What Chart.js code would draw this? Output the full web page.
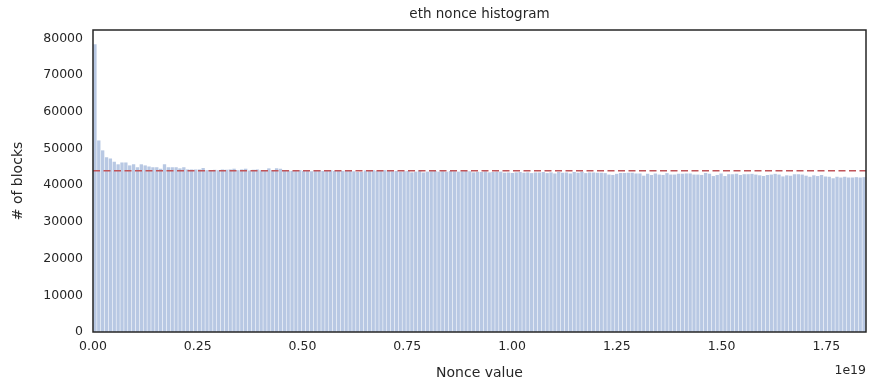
<!DOCTYPE html>
<html>
<head>
<meta charset="utf-8">
<script src="https://cdn.jsdelivr.net/npm/chart.js@4"></script>
<style>
  body { margin: 0; background: #fff; }
  #wrap { width: 877px; height: 391px; }
</style>
</head>
<body>
<div id="wrap"><canvas id="histChart"></canvas></div>
<script>
// nonce range is 0 .. 2^64, split into equal bins
const nonceMax = 18446744073709551615;
const meanLine = 43950;
const xTicks = [0, 0.25e19, 0.5e19, 0.75e19, 1e19, 1.25e19, 1.5e19, 1.75e19];
const yTicks = [0, 10000, 20000, 30000, 40000, 50000, 60000, 70000, 80000];

// block counts per bin
const counts = [
  78400, 52200, 49500, 47600, 47300, 46400, 45700, 46200, 46200, 45400,
  45700, 44900, 45700, 45400, 45100, 44900, 44900, 44500, 45700, 44900,
  44900, 44900, 44600, 44900, 44300, 44300, 44300, 44300, 44700, 44100,
  44100, 44200, 44100, 44300, 44200, 44300, 44500, 44100, 44300, 44500,
  44000, 44200, 44300, 44100, 44000, 44600, 44100, 44600, 44500, 44100,
  44000, 43900, 44000, 44100, 43900, 43900, 43800, 44000, 44100, 43900,
  43900, 44100, 43900, 44000, 43900, 44000, 43900, 43800, 43600, 43700,
  44000, 43900, 44100, 43900, 44000, 44100, 44000, 43800, 43900, 43700,
  43800, 43900, 43500, 43700, 44000, 43500, 43700, 43800, 43900, 43700,
  43800, 43700, 43900, 43800, 43700, 43800, 43900, 43800, 43500, 43700,
  43600, 43800, 43500, 43600, 43700, 43700, 43400, 43500, 43300, 43500,
  43600, 43400, 43500, 43300, 43500, 43500, 43600, 43300, 43500, 43200,
  43600, 43400, 43500, 43200, 43600, 43400, 43700, 43300, 43500, 43500,
  43400, 43400, 43300, 42900, 42800, 43100, 43300, 43300, 43400, 43400,
  43200, 43200, 42600, 43100, 42800, 43200, 42900, 42800, 43300, 42900,
  42900, 43100, 43100, 43200, 43200, 42900, 42900, 42800, 43300, 43100,
  42500, 42800, 43200, 42500, 43000, 43000, 43100, 42800, 43000, 43000,
  43100, 42900, 42700, 42500, 42800, 42900, 43100, 42900, 42400, 42700,
  42600, 43000, 43000, 42900, 42600, 42300, 42700, 42500, 42800, 42400,
  42300, 41900, 42300, 42100, 42300, 42100, 42100, 42200, 42100, 42200
];

const binWidth = nonceMax / counts.length;
const barPoints = counts.map((c, i) => ({ x: (i + 0.5) * binWidth, y: c }));

const textColor = "#262626";
const tickFont = { family: "DejaVu Sans", size: 12.5 };

// box around the plot area, title over the axes, 1e19 offset label
const framePlugin = {
  id: "frame",
  afterDraw(chart) {
    const a = chart.chartArea;
    const ctx = chart.ctx;
    ctx.save();
    ctx.strokeStyle = "#262626";
    ctx.lineWidth = 1.5;
    ctx.strokeRect(a.left, a.top, a.right - a.left, a.bottom - a.top);
    ctx.fillStyle = textColor;
    ctx.textBaseline = "middle";
    ctx.font = "13.5px 'DejaVu Sans'";
    ctx.textAlign = "center";
    ctx.fillText("eth nonce histogram", (a.left + a.right) / 2, 14);
    ctx.font = "12.5px 'DejaVu Sans'";
    ctx.textAlign = "right";
    ctx.fillText("1e19", a.right, 371);
    ctx.restore();
  },
};

new Chart(document.getElementById("histChart"), {
  type: "bar",
  data: {
    datasets: [
      {
        type: "line",
        data: [
          { x: 0, y: meanLine },
          { x: nonceMax, y: meanLine },
        ],
        borderColor: "#c0555a",
        borderWidth: 1.3,
        borderDash: [7, 3.5],
        pointRadius: 0,
        order: 0,
      },
      {
        data: barPoints,
        backgroundColor: "rgb(184, 200, 227)",
        borderWidth: 0,
        barPercentage: 0.86,
        categoryPercentage: 1,
        order: 1,
      },
    ],
  },
  options: {
    responsive: true,
    maintainAspectRatio: false,
    animation: false,
    layout: { padding: { left: 0, right: 11, top: 30, bottom: 0 } },
    scales: {
      x: {
        type: "linear",
        offset: false,
        min: 0,
        max: nonceMax,
        grid: { display: false, drawTicks: false, offset: false },
        border: { display: false },
        afterBuildTicks: (scale) => {
          scale.ticks = xTicks.map((v) => ({ value: v }));
        },
        afterFit: (scale) => {
          scale.height = 59;
        },
        ticks: {
          color: textColor,
          font: tickFont,
          padding: 7,
          maxRotation: 0,
          autoSkip: false,
          callback: (v) => (v / 1e19).toFixed(2),
        },
        title: {
          display: true,
          text: "Nonce value",
          color: textColor,
          font: { family: "DejaVu Sans", size: 14 },
          padding: { top: 0, bottom: 9 },
        },
      },
      y: {
        min: 0,
        max: 82300,
        grid: { display: false, drawTicks: false },
        border: { display: false },
        afterBuildTicks: (scale) => {
          scale.ticks = yTicks.map((v) => ({ value: v }));
        },
        afterFit: (scale) => {
          scale.width = 93;
        },
        ticks: {
          color: textColor,
          font: tickFont,
          padding: 10,
          callback: (v) => String(v),
        },
        title: {
          display: true,
          text: "# of blocks",
          color: textColor,
          font: { family: "DejaVu Sans", size: 14 },
          padding: { top: 10, bottom: 2 },
        },
      },
    },
    plugins: {
      legend: { display: false },
      tooltip: { enabled: false },
      title: { display: false },
    },
  },
  plugins: [framePlugin],
});
</script>
</body>
</html>
